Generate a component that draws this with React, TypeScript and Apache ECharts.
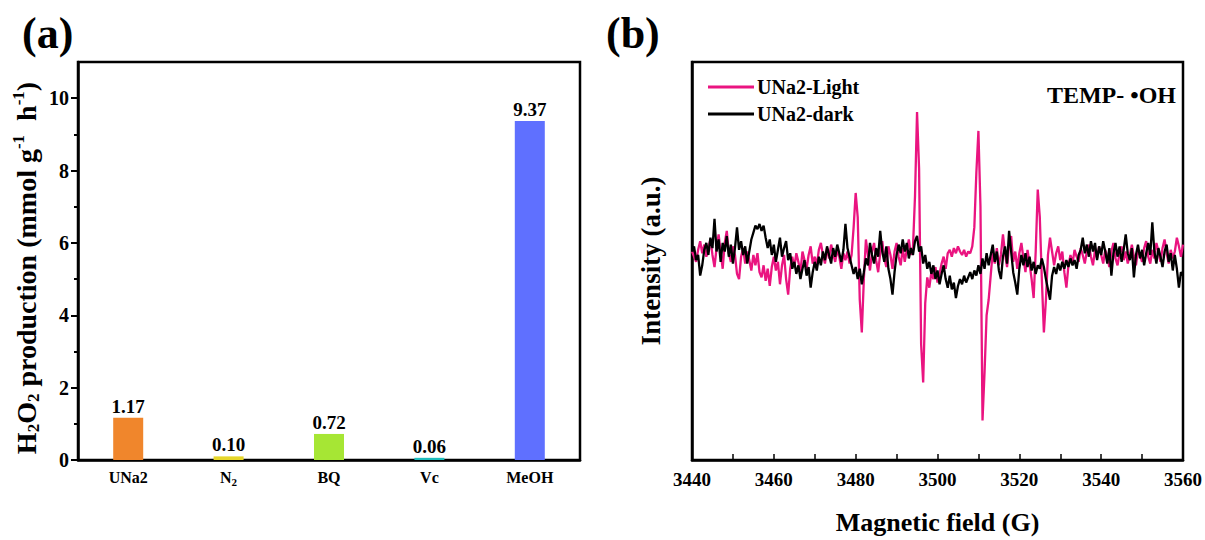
import React, { useEffect, useRef } from 'react';
import * as echarts from 'echarts';

// ---------- Panel (a) data ----------
const CATEGORIES = ['UNa2', 'N2', 'BQ', 'Vc', 'MeOH'];
const PRODUCTION = [1.17, 0.1, 0.72, 0.06, 9.37];
const BAR_COLORS = ['#F0862C', '#E6D62A', '#A6E634', '#1FBDBD', '#5F70FF'];
const Y_MAJOR_TICKS = [0, 2, 4, 6, 8, 10];
const Y_MINOR_TICKS = [1, 3, 5, 7, 9];

// ---------- Panel (b) data (EPR, arbitrary units) ----------
const FIELD_START = 3440;
const FIELD_STEP = 0.5;
const LIGHT = [
  20, 5, -10, 25, 50, 15, 40, 5, 30, 55,
  10, -25, 30, 70, 20, -30, 45, 80, 15, -10,
  35, 10, -45, -60, 5, 30, -15, 20, -5, -35,
  10, -20, 15, -40, -55, -20, -65, -30, -80, -25,
  5, -35, -10, -75, -20, 10, -60, -105, -30, 5,
  -25, 15, -10, -40, 20, -5, -30, 10, 35, -15,
  5, -20, 25, 45, 10, -15, 30, 0, 40, 15,
  -10, 25, 5, -30, 15, -5, 20, -15, 10, 90,
  190, 120, -120, -215, -60, 55, 10, -35, 20, 45,
  -5, -40, 15, 50, 0, -25, 35, 10, -30, 20,
  45, 5, -20, 30, -10, 25, 55, 10, 30, 180,
  425, 260, -250, -360, -130, -55, -85, -40, -60, -25,
  -70, -45, -15, 5, -30, 15, 25, 5, 30, 15,
  35, 20, 10, 25, 5, 20, 15, 35, 90, 250,
  370, 150, -470, -330, -165, -120, -50, 20, -15, 30,
  -20, 10, 70, 15, -25, 40, 65, -10, 20, -30,
  15, 45, 0, -40, 25, -15, -60, -115, 20, 200,
  120, -60, -215, -120, 10, 60, 20, -20, 15, 35,
  -5, 20, -40, -85, -20, 10, -15, 25, 5, -10,
  30, 10, -15, 20, 40, 5, -20, 25, 0, 35,
  10, -15, 25, 5, -25, 20, 45, 0, -20, 15,
  35, -5, 20, -15, 10, 40, 5, -20, 25, 10,
  -10, 30, 50, 5, -15, 25, 0, 45, 20, -10,
  30, 55, 15, -15, 25, 0, 20, 60, 35, 5,
  40,
];
const DARK = [
  20, 35, -5, 10, -50, -20, 25, 45, 10, 60,
  30, 115, 20, 55, -10, 45, 20, 65, 5, 40,
  -15, 30, 90, 25, 50, 10, 35, -15, 20, 55,
  75, 95, 85, 100, 80, 95, 60, 30, 55, 10,
  40, -10, 25, 60, 5, 30, 50, -5, 15, -30,
  -10, -45, -20, -60, -30, -5, -50, -25, -85, -40,
  -10, -35, 5, -20, 20, -5, 35, 10, -15, 30,
  5, 40, 15, -10, 25, 100, 30, 5, -20, -45,
  -25, -60, -30, -75, -40, 0, -20, 45, 10, -15,
  30, 5, 80, 20, -10, 35, -30, -60, -105, -40,
  10, 40, 15, 55, 20, 45, 0, 30, 10, 50,
  65, 20, 35, -15, 10, -30, -10, -45, -20, -60,
  -35, -75, -45, -20, -60, -85, -50, -90, -70, -115,
  -80, -60, -75, -50, -70, -55, -40, -60, -35, -50,
  -20, -45, 0, -30, 15, -20, 10, 40, -10, 20,
  -35, -60, 5, 35, -15, 80, 20, -40, -70, -105,
  -30, 10, -20, 15, -25, 5, -35, -10, -45, -20,
  -30, 0, -25, -60, -90, -120, -50, -25, -45, -15,
  -35, -10, -30, -5, -25, 0, -20, -5, -30, 10,
  25, 60, 15, 40, 5, 50, 20, 45, -5, 35,
  10, 50, 20, -15, 30, -50, 15, 45, 5, 35,
  -10, 25, 70, 15, -5, 30, -55, 10, 40, 0,
  25, -20, 15, 45, 10, 105, 20, -15, 30, 5,
  -25, 20, 40, -10, 15, -35, 10, -30, -85, -40,
  -50,
];
const SERIES_NAMES = ['UNa2-Light', 'UNa2-dark'];
const X_MIN = 3440;
const X_MAX = 3560;
const X_INTERVAL = 20;

const FONT = '"Liberation Serif", "Times New Roman", serif';
const PINK = '#EA1480';

export default function App() {
  const ref = useRef<HTMLDivElement>(null);

  useEffect(() => {
    document.body.style.margin = '0';
    if (!ref.current) return;
    const chart = echarts.init(ref.current, null, { renderer: 'svg' });

    const bold = (size: number) => ({
      fontFamily: FONT,
      fontWeight: 'bold' as const,
      fontSize: size,
      color: '#000',
    });
    const axisLine = { show: true, onZero: false, lineStyle: { color: '#000', width: 2.5 } };

    const toPairs = (arr: number[]) =>
      arr.map((v, i) => [FIELD_START + i * FIELD_STEP, v]);

    const option: any = {
      animation: false,
      backgroundColor: '#fff',
      grid: [
        { left: 78, top: 62, width: 502, height: 398, show: true, borderColor: '#000', borderWidth: 2.5, backgroundColor: 'transparent' },
        { left: 692, top: 62, width: 491, height: 398, show: true, borderColor: '#000', borderWidth: 2.5, backgroundColor: 'transparent' },
      ],
      legend: {
        data: SERIES_NAMES,
        orient: 'vertical',
        left: 703,
        top: 72,
        icon: 'rect',
        itemWidth: 46,
        itemHeight: 3,
        itemGap: 7,
        textStyle: { ...bold(20), padding: [0, 0, 0, -2] },
      },
      xAxis: [
        {
          type: 'category',
          gridIndex: 0,
          data: CATEGORIES,
          axisLine,
          axisTick: { show: false },
          axisLabel: {
            margin: 7,
            formatter: (v: string) => (v === 'N2' ? '{n|N}{s|2}' : '{n|' + v + '}'),
            rich: {
              n: { ...bold(16), lineHeight: 20 },
              s: { ...bold(11), verticalAlign: 'bottom', lineHeight: 12 },
            },
          },
          splitLine: { show: false },
        },
        {
          type: 'value',
          gridIndex: 1,
          min: X_MIN,
          max: X_MAX,
          interval: X_INTERVAL,
          axisLine,
          axisTick: { show: true, inside: true, length: 6, lineStyle: { color: '#000', width: 1.5 } },
          minorTick: { show: true, splitNumber: 2, length: 6, lineStyle: { color: '#000', width: 1.5 } },
          splitLine: { show: false },
          minorSplitLine: { show: false },
          axisLabel: { ...bold(19), margin: 10, formatter: (v: number) => String(v) },
          name: 'Magnetic field (G)',
          nameLocation: 'middle',
          nameGap: 49,
          nameTextStyle: bold(26),
        },
      ],
      yAxis: [
        {
          type: 'value',
          gridIndex: 0,
          position: 'left',
          min: 0,
          max: 11,
          interval: 1,
          axisLine,
          axisTick: { show: true, length: 7, customValues: Y_MAJOR_TICKS, lineStyle: { color: '#000', width: 2 } },
          axisLabel: { ...bold(20), margin: 9, customValues: Y_MAJOR_TICKS },
          splitLine: { show: false },
          name: '{t|H}{s|2}{t|O}{s|2}{t| production (mmol g}{p|-1}{t|  h}{p|-1}{t|)}',
          nameLocation: 'middle',
          nameRotate: 90,
          nameGap: 36,
          nameTextStyle: {
            ...bold(28),
            padding: [0, 14, 0, 0],
            rich: {
              t: { ...bold(28), lineHeight: 32 },
              s: { ...bold(17), verticalAlign: 'bottom', lineHeight: 16 },
              p: { ...bold(17), verticalAlign: 'top', lineHeight: 16 },
            },
          },
        },
        {
          type: 'value',
          gridIndex: 0,
          position: 'left',
          offset: 0,
          min: 0,
          max: 11,
          interval: 1,
          axisLine: { show: false },
          axisTick: { show: true, length: 4, customValues: Y_MINOR_TICKS, lineStyle: { color: '#000', width: 2 } },
          axisLabel: { show: false },
          splitLine: { show: false },
        },
        {
          type: 'value',
          gridIndex: 1,
          min: -585,
          max: 570,
          axisLine,
          axisTick: { show: false },
          axisLabel: { show: false },
          splitLine: { show: false },
          name: 'Intensity (a.u.)',
          nameLocation: 'middle',
          nameRotate: 90,
          nameGap: 28,
          nameTextStyle: bold(27),
        },
      ],
      series: [
        {
          type: 'bar',
          xAxisIndex: 0,
          yAxisIndex: 0,
          barWidth: 30,
          data: PRODUCTION.map((v, i) => ({ value: v, itemStyle: { color: BAR_COLORS[i] } })),
          label: {
            show: true,
            position: 'top',
            distance: 2,
            formatter: (p: any) => Number(p.value).toFixed(2),
            ...bold(19),
          },
        },
        {
          name: SERIES_NAMES[0],
          type: 'line',
          xAxisIndex: 1,
          yAxisIndex: 2,
          data: toPairs(LIGHT),
          showSymbol: false,
          symbol: 'none',
          lineStyle: { color: PINK, width: 2.3 },
          itemStyle: { color: PINK },
          z: 2,
        },
        {
          name: SERIES_NAMES[1],
          type: 'line',
          xAxisIndex: 1,
          yAxisIndex: 2,
          data: toPairs(DARK),
          showSymbol: false,
          symbol: 'none',
          lineStyle: { color: '#000', width: 2.3 },
          itemStyle: { color: '#000' },
          z: 3,
        },
      ],
      graphic: [
        { type: 'text', left: 22, top: 11, style: { text: '(a)', font: `bold 44px ${FONT}`, fill: '#000' } },
        { type: 'text', left: 606, top: 11, style: { text: '(b)', font: `bold 44px ${FONT}`, fill: '#000' } },
        {
          type: 'text',
          x: 1176,
          y: 95,
          style: { text: 'TEMP- •OH', font: `bold 24px ${FONT}`, fill: '#000', align: 'right', verticalAlign: 'middle' },
        },
      ],
    };

    chart.setOption(option);
    return () => chart.dispose();
  }, []);

  return <div ref={ref} style={{ width: 1205, height: 540 }} />;
}
